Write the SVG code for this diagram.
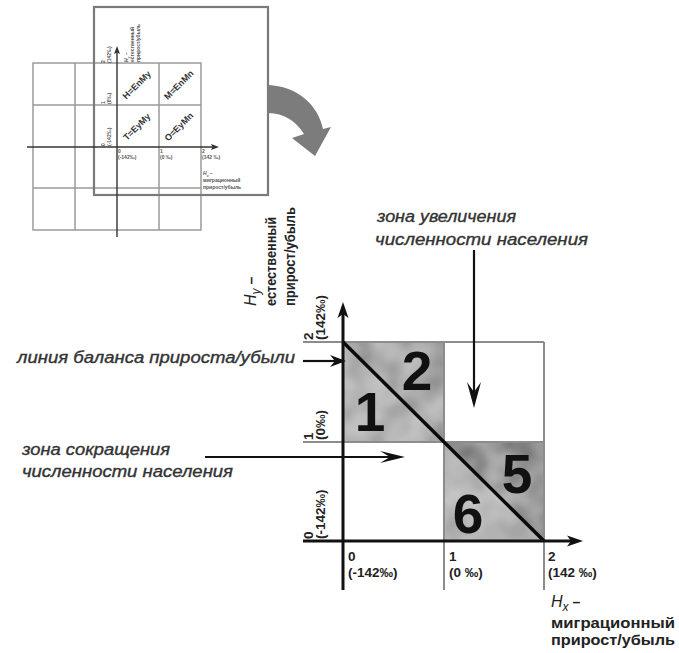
<svg xmlns="http://www.w3.org/2000/svg" width="679" height="653" viewBox="0 0 679 653">
  <style>
    .grid { stroke: #8c8c8c; stroke-width: 2; fill: none; }
    .tgrid { stroke: #9a9a9a; stroke-width: 1.5; fill: none; }
    .axis { stroke: #111; stroke-width: 3; fill: none; }
    .taxis { stroke: #333; stroke-width: 1.4; fill: none; }
    .lead { stroke: #111; stroke-width: 2.2; fill: none; }
    .note { font-family: "Liberation Sans", Arial, sans-serif; font-style: italic; font-size: 16px; fill: #333; stroke: #333; stroke-width: 0.35; }
    .tick { font-family: "Liberation Sans", Arial, sans-serif; font-weight: bold; font-size: 13.5px; fill: #222; }
    .ax { font-family: "Liberation Sans", Arial, sans-serif; font-weight: bold; font-size: 14px; fill: #222; }
    .big { font-family: "Liberation Sans", Arial, sans-serif; font-weight: bold; font-size: 55px; fill: #111; text-anchor: middle; }
    .cell { font-family: "Liberation Sans", Arial, sans-serif; font-weight: bold; font-size: 9px; fill: #333; text-anchor: middle; }
    .tiny { font-family: "Liberation Sans", Arial, sans-serif; font-weight: bold; font-size: 5px; fill: #555; }
  </style>
  <defs>
    <filter id="mottle" x="0" y="0" width="1" height="1">
      <feTurbulence type="fractalNoise" baseFrequency="0.035" numOctaves="2" seed="7" result="n"/>
      <feColorMatrix in="n" type="matrix" values="0 0 0 0 1  0 0 0 0 1  0 0 0 0 1  0.6 0 0 0 -0.15" result="w"/>
      <feComposite in="w" in2="SourceGraphic" operator="atop"/>
    </filter>
  </defs>

  <!-- small overview sketch -->
  <g id="overview">
    <g class="tgrid">
      <rect x="33" y="63" width="168" height="167"/>
      <line x1="75" y1="63" x2="75" y2="230"/>
      <line x1="159" y1="63" x2="159" y2="230"/>
      <line x1="33" y1="105" x2="201" y2="105"/>
      <line x1="33" y1="188" x2="201" y2="188"/>
    </g>
    <rect x="94" y="7" width="174" height="188" fill="none" stroke="#7a7a7a" stroke-width="2.2"/>
    <line class="taxis" x1="27" y1="147" x2="214" y2="147"/>
    <path d="M219,147 L211,144 L212.5,147 L211,150 Z" fill="#333"/>
    <line class="taxis" x1="117" y1="237" x2="117" y2="51"/>
    <path d="M117,46 L114,54 L117,52.5 L120,54 Z" fill="#333"/>
    <text class="cell" transform="translate(139,87) rotate(-45)">H=EnMy</text>
    <text class="cell" transform="translate(181,87) rotate(-45)">M=EnMn</text>
    <text class="cell" transform="translate(139,129) rotate(-45)">T=EyMy</text>
    <text class="cell" transform="translate(181,129) rotate(-45)">O=EyMn</text>
    <g class="tiny">
      <text transform="translate(105,63) rotate(-90)">2<tspan x="0" dy="5.5">(142‰)</tspan></text>
      <text transform="translate(105,104) rotate(-90)">1<tspan x="0" dy="5.5">(0‰)</tspan></text>
      <text transform="translate(105,146) rotate(-90)">0<tspan x="0" dy="5.5">(-142‰)</tspan></text>
      <text transform="translate(128,62) rotate(-90)"><tspan font-style="italic">H</tspan><tspan font-size="3.5" dy="1.5" font-style="italic">y</tspan><tspan dy="-1.5"> –</tspan><tspan x="0" dy="6">естественный</tspan><tspan x="0" dy="6">прирост/убыль</tspan></text>
      <text x="118" y="153">0<tspan x="118" dy="6">(-142‰)</tspan></text>
      <text x="160" y="153">1<tspan x="160" dy="6">(0 ‰)</tspan></text>
      <text x="202" y="153">2<tspan x="202" dy="6">(142 ‰)</tspan></text>
      <text x="203" y="175"><tspan font-style="italic">H</tspan><tspan font-size="3.5" dy="1.5" font-style="italic">x</tspan><tspan dy="-1.5"> –</tspan><tspan x="203" dy="7">миграционный</tspan><tspan x="203" dy="7">прирост/убыль</tspan></text>
    </g>
  </g>

  <!-- curved pointer -->
  <g id="pointer">
    <path d="M268,85 C296,86 318,104 323,129 L331,127 L315,156 L292,138 L304,134 C297,122 284,113 268,113 Z" fill="#7c7c7c"/>
  </g>

  <!-- shaded zones -->
  <g id="zones" filter="url(#mottle)">
    <polygon points="343,342 343,442 444,442" fill="#a6a6a6"/>
    <polygon points="343,342 444,342 444,442" fill="#939393"/>
    <polygon points="444,442 544,442 544,541" fill="#777777"/>
    <polygon points="444,442 444,541 544,541" fill="#a6a6a6"/>
  </g>

  <!-- grid and axes -->
  <g id="grid">
    <line class="grid" x1="303" y1="342" x2="544" y2="342"/>
    <line class="grid" x1="303" y1="442" x2="544" y2="442"/>
    <line class="grid" x1="444" y1="342" x2="444" y2="590"/>
    <line class="grid" x1="544" y1="342" x2="544" y2="590"/>
    <line class="grid" x1="303" y1="541" x2="343" y2="541"/>
  </g>
  <line id="balance-line" x1="343" y1="342" x2="544" y2="541" stroke="#0a0a0a" stroke-width="3.5"/>
  <g id="axes">
    <line class="axis" x1="343" y1="590" x2="343" y2="314"/>
    <path d="M343,302 L337.5,318 L343,314 L348.5,318 Z" fill="#111"/>
    <line class="axis" x1="303" y1="541" x2="571" y2="541"/>
    <path d="M583,541 L567,535.5 L571,541 L567,546.5 Z" fill="#111"/>
  </g>

  <!-- zone numbers -->
  <g id="numbers">
    <text class="big" x="370" y="431">1</text>
    <text class="big" x="417" y="390">2</text>
    <text class="big" x="517" y="493">5</text>
    <text class="big" x="468" y="533">6</text>
  </g>

  <!-- axis scale labels -->
  <g id="y-ticks" class="tick">
    <text transform="translate(313,340) rotate(-90)">2<tspan x="0" dy="11.5">(142‰)</tspan></text>
    <text transform="translate(313,440) rotate(-90)">1<tspan x="0" dy="11.5">(0‰)</tspan></text>
    <text transform="translate(313,539) rotate(-90)">0<tspan x="0" dy="11.5">(-142‰)</tspan></text>
  </g>
  <g id="x-ticks" class="tick">
    <text x="348" y="561">0<tspan x="348" dy="16">(-142‰)</tspan></text>
    <text x="449" y="561">1<tspan x="449" dy="16">(0 ‰)</tspan></text>
    <text x="548" y="561">2<tspan x="548" dy="16">(142 ‰)</tspan></text>
  </g>

  <!-- axis titles -->
  <g id="y-title" class="ax">
    <text transform="translate(256,306) rotate(-90)"><tspan font-style="italic" font-weight="normal" font-size="16">H</tspan><tspan font-style="italic" font-weight="normal" font-size="12" dy="4">y</tspan><tspan dy="-4"> –</tspan></text>
    <text transform="translate(276,306) rotate(-90)" textLength="89" lengthAdjust="spacingAndGlyphs">естественный</text>
    <text transform="translate(295,306) rotate(-90)" textLength="99" lengthAdjust="spacingAndGlyphs">прирост/убыль</text>
  </g>
  <g id="x-title" class="ax">
    <text x="551" y="607"><tspan font-style="italic" font-weight="normal" font-size="16">H</tspan><tspan font-style="italic" font-weight="normal" font-size="12" dy="4">x</tspan><tspan dy="-4"> –</tspan></text>
    <text x="551" y="628" textLength="124" lengthAdjust="spacingAndGlyphs">миграционный</text>
    <text x="551" y="645" textLength="124" lengthAdjust="spacingAndGlyphs">прирост/убыль</text>
  </g>

  <!-- callouts -->
  <g id="growth-zone">
    <text class="note" x="377" y="222" textLength="139" lengthAdjust="spacingAndGlyphs">зона увеличения</text>
    <text class="note" x="375" y="245" textLength="213" lengthAdjust="spacingAndGlyphs">численности населения</text>
  </g>
  <g id="balance-note">
    <text class="note" x="17" y="363" textLength="278" lengthAdjust="spacingAndGlyphs">линия баланса прироста/убыли</text>
  </g>
  <g id="decline-zone">
    <text class="note" x="22" y="455" textLength="148" lengthAdjust="spacingAndGlyphs">зона сокращения</text>
    <text class="note" x="22" y="477" textLength="211" lengthAdjust="spacingAndGlyphs">численности населения</text>
  </g>

  <g id="connectors">
    <line class="lead" x1="474" y1="250" x2="474" y2="395"/>
    <path d="M474,408 L467,382 L474,392 L481,382 Z" fill="#111"/>
    <line class="lead" x1="303" y1="361" x2="335" y2="361"/>
    <path d="M346,361 L330,355 L335,361 L330,367 Z" fill="#111"/>
    <line class="lead" x1="205" y1="457" x2="392" y2="457"/>
    <path d="M405,457 L380,451 L390,457 L380,463 Z" fill="#111"/>
  </g>
</svg>
